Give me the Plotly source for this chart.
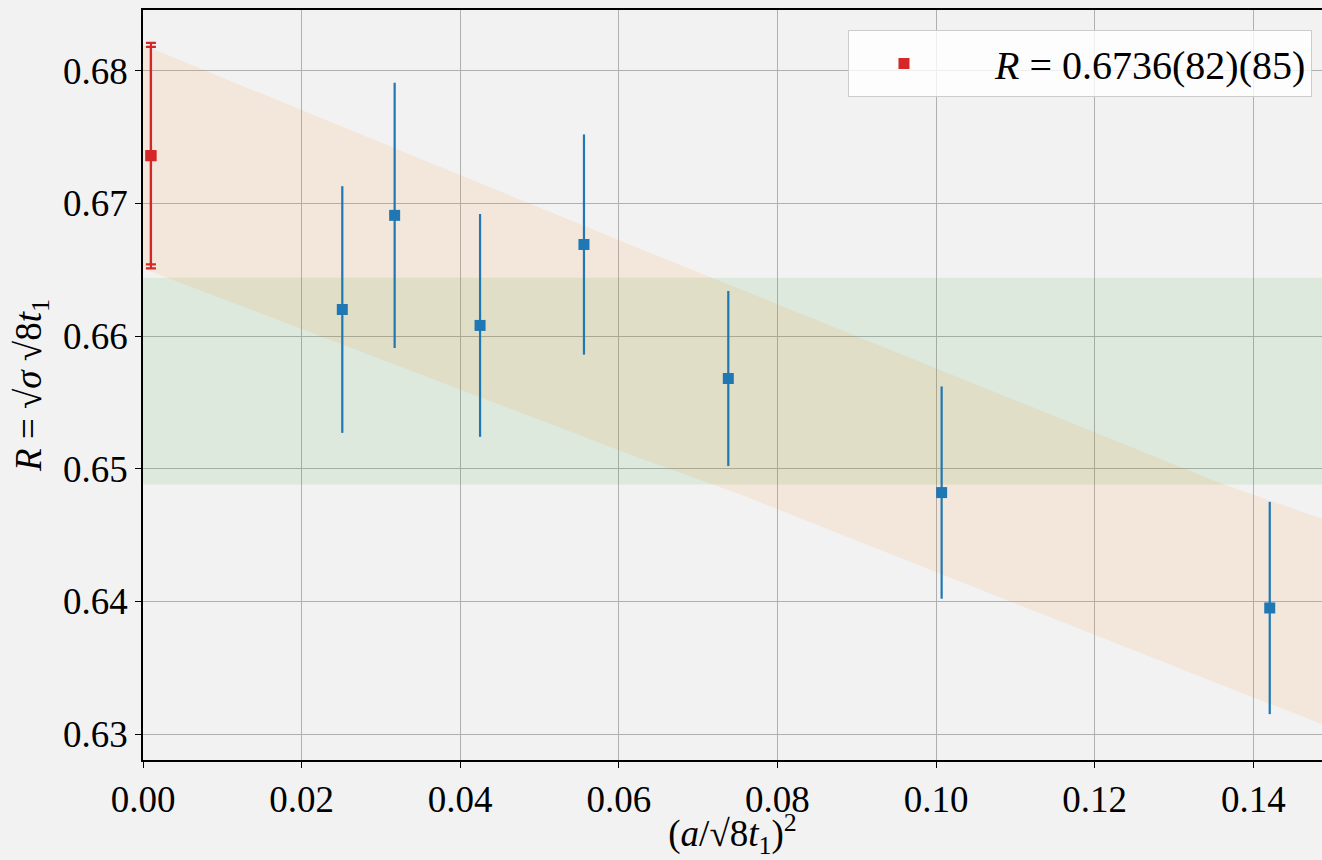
import plotly.graph_objects as go

# ---- data ----
pts_x = [0.02513, 0.03173, 0.0425, 0.0556, 0.0738, 0.1007, 0.14207]
pts_y = [0.6620, 0.6691, 0.6608, 0.6669, 0.6568, 0.6482, 0.6395]
pts_err = [0.0093, 0.0100, 0.0084, 0.0083, 0.0066, 0.0080, 0.0080]

cont_x = [0.001]
cont_y = [0.6736]
cont_err_stat = [0.0082]
cont_err_sys = [0.0085]

fit_band_x = [0.0, 0.0126, 0.0625, 0.0751, 0.1357, 0.1487]
fit_band_upper = [0.68194, 0.67884, 0.66661, 0.66359, 0.64894, 0.64622]
fit_band_lower = [0.66510, 0.66226, 0.65083, 0.64811, 0.63376, 0.63074]

const_band = [0.6488, 0.6644]

x_ticks = [0.00, 0.02, 0.04, 0.06, 0.08, 0.10, 0.12, 0.14]
y_ticks = [0.63, 0.64, 0.65, 0.66, 0.67, 0.68]

x_range = [0.0, 0.14866]
y_range = [0.62804, 0.68458]

BG = "#f2f2f2"
FONT = "Liberation Serif"

fig = go.Figure()

# constant-fit band (green), spanning the whole x axis
fig.add_trace(go.Scatter(
    x=[x_range[0] - 0.01, x_range[1] + 0.01, x_range[1] + 0.01, x_range[0] - 0.01],
    y=[const_band[0], const_band[0], const_band[1], const_band[1]],
    fill="toself", fillcolor="rgba(44,160,44,0.1)",
    line=dict(width=0), mode="lines", showlegend=False, hoverinfo="skip"))

# linear-fit band (orange)
fig.add_trace(go.Scatter(
    x=fit_band_x + fit_band_x[::-1],
    y=fit_band_upper + fit_band_lower[::-1],
    fill="toself", fillcolor="rgba(255,127,14,0.1)",
    line=dict(width=0), mode="lines", showlegend=False, hoverinfo="skip"))

# lattice points
fig.add_trace(go.Scatter(
    x=pts_x, y=pts_y, mode="markers",
    marker=dict(symbol="square", size=11, color="#1f77b4"),
    error_y=dict(type="data", array=pts_err, color="#1f77b4", thickness=2.2, width=0),
    showlegend=False))

# continuum result
fig.add_trace(go.Scatter(
    x=cont_x, y=cont_y, mode="markers",
    marker=dict(symbol="square", size=11, color="#d62728"),
    error_y=dict(type="data", array=cont_err_sys, color="#d62728", thickness=2.2, width=5),
    showlegend=False))
fig.add_trace(go.Scatter(
    x=cont_x, y=cont_y, mode="markers",
    marker=dict(symbol="square", size=11, color="#d62728"),
    error_y=dict(type="data", array=cont_err_stat, color="#d62728", thickness=2.2, width=5),
    name="\u2002\u2009\u2009<i>R</i> = 0.6736(82)(85)", showlegend=True))

axis_common = dict(
    showgrid=True, gridcolor="#b0b0b0", gridwidth=1,
    showline=True, linecolor="black", linewidth=1.5,
    ticks="outside", ticklen=6, tickcolor="black", tickwidth=1.2,
    tickfont=dict(family=FONT, size=37, color="black"),
    zeroline=False,
)

fig.update_xaxes(range=x_range, tickvals=x_ticks, tickformat=".2f", mirror=True,
                 title=dict(text="(<i>a</i>/√8<i>t</i><sub>1</sub>)<sup>2</sup>",
                            font=dict(family=FONT, size=37, color="black"), standoff=14),
                 **axis_common)
fig.update_yaxes(range=y_range, tickvals=y_ticks, tickformat=".2f", mirror=False,
                 title=dict(text="<i>R</i> = √<i>σ</i> √8<i>t</i><sub>1</sub>",
                            font=dict(family=FONT, size=37, color="black"), standoff=10),
                 **axis_common)

fig.update_layout(
    width=1322, height=860,
    margin=dict(l=143, r=0, t=10, b=100),
    paper_bgcolor=BG, plot_bgcolor=BG,
    font=dict(family=FONT, color="black"),
    legend=dict(x=0.9915, y=0.9733, xanchor="right", yanchor="top",
                bgcolor="rgba(255,255,255,0.8)", bordercolor="#cccccc", borderwidth=1,
                font=dict(family=FONT, size=40, color="black"), itemwidth=100,
                tracegroupgap=0),
)

fig.write_html("out.html")
